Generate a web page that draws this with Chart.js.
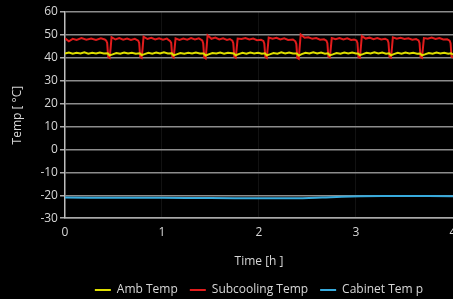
<!DOCTYPE html>
<html>
<head>
<meta charset="utf-8">
<script src="https://cdn.jsdelivr.net/npm/chart.js@4"></script>
<style>
  html, body { margin: 0; padding: 0; background: #000; overflow: hidden; }
  #wrap { width: 453px; height: 299px; }
</style>
</head>
<body>
<div id="wrap"><canvas id="chart"></canvas></div>
<script>
// [time h, temp °C]
const ambTemp = [
  [0, 41.9], [0.04, 42.3], [0.08, 41.8], [0.12, 42.2], [0.16, 41.9], [0.2, 42.4], [0.24, 41.8],
  [0.28, 42.2], [0.32, 41.9], [0.36, 42.3], [0.4, 41.9],
  [0.44, 42], [0.46, 41.1], [0.49, 41.5], [0.53, 42.1], [0.57, 41.8], [0.61, 42.3], [0.65, 41.9], [0.69, 42.2], [0.73, 41.8],
  [0.77, 42], [0.79, 41.2], [0.82, 41.6], [0.86, 42.2], [0.9, 41.8], [0.94, 42.3], [0.98, 41.9], [1.02, 42.4], [1.06, 41.9],
  [1.1, 42], [1.12, 41.1], [1.15, 41.5], [1.19, 42.1], [1.23, 41.8], [1.27, 42.2], [1.31, 41.9], [1.35, 42.3], [1.39, 41.9],
  [1.43, 41.9], [1.45, 41], [1.48, 41.5], [1.52, 42.1], [1.56, 41.9], [1.6, 42.3], [1.64, 41.8], [1.68, 42.2],
  [1.74, 41.9], [1.76, 41.1], [1.79, 41.6], [1.83, 42.2], [1.87, 41.8], [1.91, 42.3], [1.95, 41.9], [1.99, 42.2], [2.03, 41.8],
  [2.06, 42], [2.08, 41.1], [2.11, 41.5], [2.15, 42.1], [2.19, 41.8], [2.23, 42.4], [2.27, 41.9], [2.31, 42.3], [2.35, 41.9],
  [2.39, 41.9], [2.41, 41], [2.44, 41.6], [2.48, 42.2], [2.52, 41.9], [2.56, 42.4], [2.6, 41.9], [2.64, 42.3], [2.68, 41.8],
  [2.71, 42], [2.73, 41.1], [2.76, 41.5], [2.8, 42.1], [2.84, 41.8], [2.88, 42.3], [2.92, 41.9], [2.96, 42.3], [3.0, 41.9],
  [3.02, 41.9], [3.04, 41.2], [3.07, 41.6], [3.11, 42.2], [3.15, 41.9], [3.19, 42.4], [3.23, 41.9], [3.27, 42.3], [3.31, 41.8],
  [3.34, 42], [3.36, 41.1], [3.39, 41.6], [3.43, 42.2], [3.47, 41.8], [3.51, 42.3], [3.55, 41.9], [3.59, 42.2], [3.63, 41.8],
  [3.66, 41.9], [3.68, 41.1], [3.71, 41.5], [3.75, 42.1], [3.79, 41.8], [3.83, 42.3], [3.87, 41.9], [3.91, 42.2], [3.95, 41.8],
  [3.98, 42], [4.0, 41.4],
];

const subcoolingTemp = [
  [0, 48.5], [0.04, 47.2], [0.08, 48.3], [0.12, 47.8], [0.17, 48.6], [0.22, 47.9], [0.27, 48.4], [0.32, 47.8], [0.37, 48.5], [0.41, 48],
  [0.425, 47.5], [0.435, 46.5], [0.445, 40.5], [0.46, 40], [0.47, 44], [0.48, 49], [0.52, 48], [0.56, 48.6], [0.6, 47.9], [0.64, 48.4], [0.68, 47.8], [0.72, 48.3],
  [0.755, 47.5], [0.765, 46.5], [0.775, 40.5], [0.79, 40], [0.8, 44], [0.81, 49.2], [0.85, 48.2], [0.89, 48.7], [0.93, 48], [0.97, 48.5], [1.01, 47.9], [1.05, 48.4],
  [1.085, 47.3], [1.095, 46.5], [1.105, 40.8], [1.12, 40.2], [1.13, 44], [1.14, 48.5], [1.18, 47.8], [1.22, 48.4], [1.26, 47.9], [1.3, 48.6], [1.34, 48], [1.38, 48.5],
  [1.415, 47.6], [1.425, 46.3], [1.435, 40.3], [1.45, 39.8], [1.46, 44.5], [1.47, 49.8], [1.51, 48.3], [1.55, 48.8], [1.59, 48], [1.63, 48.5], [1.67, 47.8], [1.7, 48.2],
  [1.725, 47.5], [1.735, 46.4], [1.745, 40.6], [1.76, 40.1], [1.77, 44], [1.78, 48.4], [1.82, 48.2], [1.86, 48.6], [1.9, 48], [1.94, 48.4], [1.98, 47.7], [2.02, 47.9],
  [2.045, 47.4], [2.055, 46.2], [2.065, 40.5], [2.08, 40], [2.09, 44.2], [2.1, 48.8], [2.14, 48.3], [2.18, 48.7], [2.22, 48], [2.26, 48.5], [2.3, 47.8], [2.35, 48],
  [2.375, 47.2], [2.385, 46], [2.395, 40], [2.41, 39.6], [2.42, 45], [2.43, 50.2], [2.47, 48.8], [2.51, 49], [2.55, 48.3], [2.59, 48.6], [2.63, 47.9], [2.67, 48.1],
  [2.695, 47.5], [2.705, 46.4], [2.715, 40.6], [2.73, 40.2], [2.74, 44], [2.75, 48.6], [2.79, 48.1], [2.83, 48.6], [2.87, 48], [2.91, 48.5], [2.95, 47.8], [2.98, 48],
  [3.005, 47.6], [3.015, 46.5], [3.025, 40.3], [3.04, 40], [3.05, 44.5], [3.06, 49.5], [3.1, 48.4], [3.14, 48.8], [3.18, 48.1], [3.22, 48.6], [3.26, 48], [3.3, 48.3],
  [3.325, 47.8], [3.335, 46.6], [3.345, 40.5], [3.36, 40.1], [3.37, 44], [3.38, 48.9], [3.42, 48.3], [3.46, 48.7], [3.5, 48.2], [3.54, 48.5], [3.58, 47.9], [3.62, 48.2],
  [3.645, 47.6], [3.655, 46.5], [3.665, 40.4], [3.68, 40], [3.69, 44.2], [3.7, 48.6], [3.74, 48.3], [3.78, 48.8], [3.82, 48.2], [3.86, 48.6], [3.9, 48], [3.94, 48.1],
  [3.965, 47.5], [3.975, 46.4], [3.985, 40.6], [4.0, 40],
];

const cabinetTemp = [
  [0, -21.0], [0.5, -21.1], [1, -21.1], [1.5, -21.2], [2, -21.3], [2.45, -21.3],
  [2.65, -21.0], [2.85, -20.6], [3.05, -20.4], [3.5, -20.3], [4, -20.4],
];

const seriesNames = ["Amb Temp", "Subcooling Temp", "Cabinet Tem p"];
const seriesColors = ["rgb(222, 222, 0)", "rgb(225, 28, 28)", "rgb(55, 170, 220)"];
const seriesData = [ambTemp, subcoolingTemp, cabinetTemp];

const FONT = { family: "'Open Sans', sans-serif", size: 12 };
const TEXT = "rgb(215, 215, 215)";

const datasets = seriesData.map((rows, i) => ({
  label: seriesNames[i],
  data: rows.map(([x, y]) => ({ x, y })),
  borderColor: seriesColors[i],
  backgroundColor: seriesColors[i],
  borderWidth: 2,
  pointRadius: 0,
  tension: i === 2 ? 0.4 : 0,
}));

new Chart(document.getElementById("chart"), {
  type: "line",
  data: { datasets },
  options: {
    responsive: true,
    maintainAspectRatio: false,
    animation: false,
    layout: { padding: { top: 12, left: 10, right: 0, bottom: -7 } },
    plugins: {
      tooltip: { enabled: false },
      legend: {
        position: "bottom",
        fullSize: false,
        labels: {
          color: TEXT,
          font: FONT,
          usePointStyle: true,
          pointStyleWidth: 16,
          pointStyle: "line",
          boxHeight: 2,
          padding: 12,
        },
      },
    },
    scales: {
      x: {
        type: "linear",
        min: 0,
        max: 4,
        afterFit: (scale) => { scale.paddingRight = 0; },
        ticks: { stepSize: 1, color: TEXT, font: FONT, padding: 7 },
        grid: { color: "rgba(255,255,255,0.07)", drawTicks: false },
        border: { color: "rgb(170,170,170)", width: 1.5 },
        title: { display: true, text: "Time [h ]", color: TEXT, font: FONT, padding: { top: 8, bottom: 3 } },
      },
      y: {
        min: -30,
        max: 60,
        ticks: { stepSize: 10, color: TEXT, font: FONT, padding: 2 },
        grid: { color: "rgb(140,140,140)", lineWidth: 1.5, tickLength: 5, tickColor: "rgb(170,170,170)" },
        border: { color: "rgb(190,190,190)", width: 1.5 },
        title: { display: true, text: "Temp [ °C]", color: TEXT, font: FONT, padding: { top: 0, bottom: 14 } },
      },
    },
  },
});
</script>
</body>
</html>
